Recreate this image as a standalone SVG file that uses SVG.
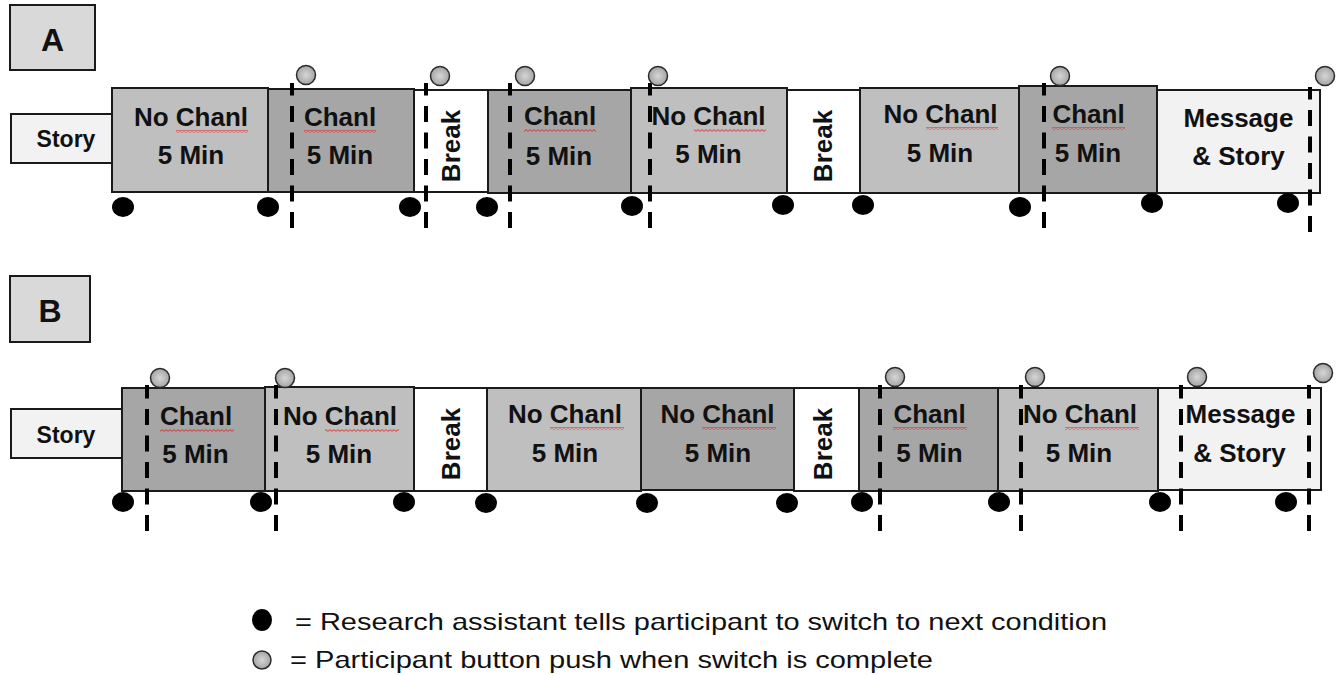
<svg xmlns="http://www.w3.org/2000/svg" width="1338" height="675" viewBox="0 0 1338 675">
<style>
.box{stroke:#1a1a1a;stroke-width:2}
.w{fill:#ffffff}.l{fill:#f2f2f2}.m{fill:#bfbfbf}.d{fill:#a6a6a6}.t{fill:#d9d9d9}
.lb{font-family:"Liberation Sans",Arial,sans-serif;font-weight:bold;font-size:26px;fill:#111;text-anchor:middle}
.st{font-family:"Liberation Sans",Arial,sans-serif;font-weight:bold;font-size:23px;fill:#111;text-anchor:middle}
.big{font-family:"Liberation Sans",Arial,sans-serif;font-weight:bold;font-size:32px;fill:#111;text-anchor:middle}
.lg{font-family:"Liberation Sans",Arial,sans-serif;font-size:24px;fill:#111}
.dash{stroke:#000;stroke-width:4;stroke-dasharray:16 10.5;fill:none}
.btn{fill:url(#gg);stroke:#2a2a2a;stroke-width:1.5}
.ra{fill:#000}
.sq{fill:url(#sqp)}
</style>
<defs>
<radialGradient id="gg" cx="0.5" cy="0.5" r="0.6">
<stop offset="0" stop-color="#d6d6d6"/>
<stop offset="1" stop-color="#9a9a9a"/>
</radialGradient>
<pattern id="sqp" width="4" height="3" patternUnits="userSpaceOnUse">
<path d="M0 2.4 L2 0.6 L4 2.4" stroke="#e02020" stroke-width="0.9" fill="none"/>
</pattern>
</defs>
<rect x="0" y="0" width="1338" height="675" fill="#ffffff"/>

<!-- Row A -->
<g id="labelA"><rect class="box t" x="10" y="5" width="85" height="65"/><text class="big" x="52.5" y="51">A</text></g>
<g id="A0"><rect class="box l" x="11" y="114" width="101" height="49"/><text class="st" x="66" y="147">Story</text></g>
<g id="A1"><rect class="box m" x="112" y="88" width="156" height="104"/><text class="lb" x="191" y="126">No Chanl</text><rect class="sq" x="176" y="130" width="72" height="3"/><text class="lb" x="191" y="164">5 Min</text></g>
<g id="A2"><rect class="box d" x="268" y="89" width="146" height="103"/><text class="lb" x="340" y="126">Chanl</text><rect class="sq" x="304" y="130" width="72" height="3"/><text class="lb" x="340" y="164">5 Min</text></g>
<g id="A3"><rect class="box w" x="414" y="90" width="74" height="102"/><text class="lb" transform="translate(460 146) rotate(-90)">Break</text></g>
<g id="A4"><rect class="box d" x="488" y="90" width="143" height="103"/><text class="lb" x="560" y="125">Chanl</text><rect class="sq" x="524" y="129" width="72" height="3"/><text class="lb" x="559" y="165">5 Min</text></g>
<g id="A5"><rect class="box m" x="631" y="88" width="156" height="105"/><text class="lb" x="708.5" y="125">No Chanl</text><rect class="sq" x="694" y="129" width="72" height="3"/><text class="lb" x="708.5" y="163">5 Min</text></g>
<g id="A6"><rect class="box w" x="787" y="90" width="73" height="103"/><text class="lb" transform="translate(832 146) rotate(-90)">Break</text></g>
<g id="A7"><rect class="box m" x="860" y="88" width="159" height="105"/><text class="lb" x="940.5" y="123">No Chanl</text><rect class="sq" x="926" y="127" width="72" height="3"/><text class="lb" x="940" y="162">5 Min</text></g>
<g id="A8"><rect class="box d" x="1019" y="86" width="138" height="107"/><text class="lb" x="1088.5" y="123">Chanl</text><rect class="sq" x="1052" y="127" width="73" height="3"/><text class="lb" x="1088" y="162">5 Min</text></g>
<g id="A9"><rect class="box l" x="1157" y="90" width="163" height="103"/><text class="lb" x="1238.5" y="127">Message</text><text class="lb" x="1238.5" y="165">&amp; Story</text></g>

<!-- Row B -->
<g id="labelB"><rect class="box t" x="10" y="276" width="80" height="66"/><text class="big" x="50" y="322">B</text></g>
<g id="B0"><rect class="box l" x="11" y="409" width="111" height="49"/><text class="st" x="66" y="443">Story</text></g>
<g id="B1"><rect class="box d" x="122" y="388" width="143" height="103"/><text class="lb" x="196" y="425">Chanl</text><rect class="sq" x="160" y="429" width="74" height="3"/><text class="lb" x="195.5" y="463">5 Min</text></g>
<g id="B2"><rect class="box m" x="265" y="387" width="149" height="104"/><text class="lb" x="340" y="425">No Chanl</text><rect class="sq" x="325" y="429" width="74" height="3"/><text class="lb" x="339" y="463">5 Min</text></g>
<g id="B3"><rect class="box w" x="414" y="388" width="73" height="103"/><text class="lb" transform="translate(460 444) rotate(-90)">Break</text></g>
<g id="B4"><rect class="box m" x="487" y="388" width="154" height="103"/><text class="lb" x="565" y="423">No Chanl</text><rect class="sq" x="550" y="427" width="74" height="3"/><text class="lb" x="565" y="462">5 Min</text></g>
<g id="B5"><rect class="box d" x="641" y="388" width="153" height="102"/><text class="lb" x="717.5" y="423">No Chanl</text><rect class="sq" x="702" y="427" width="74" height="3"/><text class="lb" x="718" y="462">5 Min</text></g>
<g id="B6"><rect class="box w" x="794" y="388" width="65" height="103"/><text class="lb" transform="translate(832 444) rotate(-90)">Break</text></g>
<g id="B7"><rect class="box d" x="859" y="388" width="139" height="103"/><text class="lb" x="929.5" y="423">Chanl</text><rect class="sq" x="893" y="427" width="74" height="3"/><text class="lb" x="929.5" y="462">5 Min</text></g>
<g id="B8"><rect class="box m" x="998" y="388" width="160" height="103"/><text class="lb" x="1080" y="423">No Chanl</text><rect class="sq" x="1065" y="427" width="74" height="3"/><text class="lb" x="1079" y="462">5 Min</text></g>
<g id="B9"><rect class="box l" x="1158" y="388" width="163" height="102"/><text class="lb" x="1240.5" y="423">Message</text><text class="lb" x="1239.5" y="462">&amp; Story</text></g>

<!-- connectors: dashed switch lines -->
<g id="connectors">
<line class="dash" x1="292" y1="228" x2="292" y2="83"/>
<line class="dash" x1="426" y1="228" x2="426" y2="83"/>
<line class="dash" x1="510" y1="228" x2="510" y2="83"/>
<line class="dash" x1="650" y1="228" x2="650" y2="83"/>
<line class="dash" x1="1044" y1="228" x2="1044" y2="83"/>
<line class="dash" x1="1310" y1="232" x2="1310" y2="87"/>
<line class="dash" x1="147" y1="531" x2="147" y2="385"/>
<line class="dash" x1="276" y1="531" x2="276" y2="385"/>
<line class="dash" x1="880" y1="531" x2="880" y2="385"/>
<line class="dash" x1="1021" y1="531" x2="1021" y2="385"/>
<line class="dash" x1="1181" y1="531" x2="1181" y2="385"/>
<line class="dash" x1="1309" y1="531" x2="1309" y2="385"/>
</g>

<!-- research assistant cues -->
<g id="cuesA">
<ellipse class="ra" cx="123" cy="207" rx="11" ry="10"/>
<ellipse class="ra" cx="268" cy="207" rx="11" ry="10"/>
<ellipse class="ra" cx="410" cy="207" rx="11" ry="10"/>
<ellipse class="ra" cx="487" cy="207" rx="11" ry="10"/>
<ellipse class="ra" cx="632" cy="206" rx="11" ry="10"/>
<ellipse class="ra" cx="783" cy="205" rx="11" ry="10"/>
<ellipse class="ra" cx="863" cy="205" rx="11" ry="10"/>
<ellipse class="ra" cx="1020" cy="207" rx="11" ry="10"/>
<ellipse class="ra" cx="1152" cy="203" rx="11" ry="10"/>
<ellipse class="ra" cx="1288" cy="203" rx="11" ry="10"/>
</g>
<g id="cuesB">
<ellipse class="ra" cx="123" cy="502" rx="11" ry="10"/>
<ellipse class="ra" cx="261" cy="502" rx="11" ry="10"/>
<ellipse class="ra" cx="404" cy="502" rx="11" ry="10"/>
<ellipse class="ra" cx="486" cy="503" rx="11" ry="10"/>
<ellipse class="ra" cx="647" cy="503" rx="11" ry="10"/>
<ellipse class="ra" cx="787" cy="503" rx="11" ry="10"/>
<ellipse class="ra" cx="862" cy="502" rx="11" ry="10"/>
<ellipse class="ra" cx="999" cy="502" rx="11" ry="10"/>
<ellipse class="ra" cx="1160" cy="502" rx="11" ry="10"/>
<ellipse class="ra" cx="1286" cy="502" rx="11" ry="10"/>
</g>

<!-- participant button pushes -->
<g id="pushA">
<circle class="btn" cx="306" cy="75" r="9.5"/>
<circle class="btn" cx="440" cy="76" r="9.5"/>
<circle class="btn" cx="525" cy="76" r="9.5"/>
<circle class="btn" cx="658" cy="76" r="9.5"/>
<circle class="btn" cx="1060" cy="76" r="9.5"/>
<circle class="btn" cx="1325" cy="76" r="9.5"/>
</g>
<g id="pushB">
<circle class="btn" cx="160" cy="378" r="9.5"/>
<circle class="btn" cx="285" cy="378" r="9.5"/>
<circle class="btn" cx="895" cy="377" r="9.5"/>
<circle class="btn" cx="1035" cy="377" r="9.5"/>
<circle class="btn" cx="1197" cy="377" r="9.5"/>
<circle class="btn" cx="1323" cy="373" r="9.5"/>
</g>

<!-- legend -->
<g id="legend">
<ellipse class="ra" cx="262" cy="620" rx="10" ry="11"/>
<text class="lg" x="295" y="630" textLength="812" lengthAdjust="spacingAndGlyphs">= Research assistant tells participant to switch to next condition</text>
<circle class="btn" cx="262" cy="660" r="9"/>
<text class="lg" x="290" y="668" textLength="643" lengthAdjust="spacingAndGlyphs">= Participant button push when switch is complete</text>
</g>
</svg>
